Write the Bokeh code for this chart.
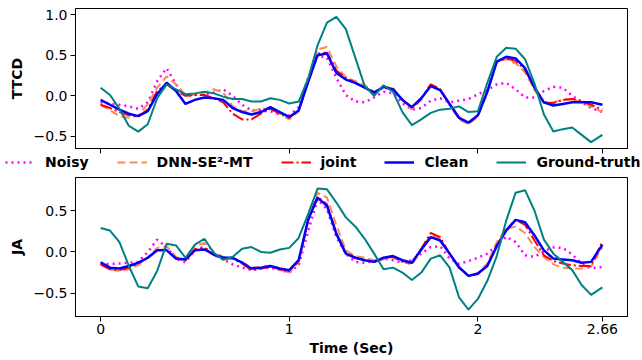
from bokeh.plotting import figure
from bokeh.models import (Range1d, FixedTicker, CustomJSTickFormatter, Legend,
                          LegendItem)
from bokeh.embed import file_html
from bokeh.resources import INLINE

# ---------------- data ----------------
TIME = [0.00, 0.05, 0.10, 0.15, 0.20, 0.25, 0.30, 0.35, 0.40, 0.45,
        0.50, 0.55, 0.60, 0.65, 0.70, 0.75, 0.80, 0.85, 0.90, 0.95,
        1.00, 1.05, 1.10, 1.15, 1.20, 1.25, 1.30, 1.35, 1.40, 1.45,
        1.50, 1.55, 1.60, 1.65, 1.70, 1.75, 1.80, 1.85, 1.90, 1.95,
        2.00, 2.05, 2.10, 2.15, 2.20, 2.25, 2.30, 2.35, 2.40, 2.45,
        2.50, 2.55, 2.60, 2.66]

X_TICKS = [0, 1, 2, 2.66]
TTCD_TICKS = [-0.5, 0.0, 0.5, 1.0]
JA_TICKS = [-0.5, 0.0, 0.5]

LABELS = ["Noisy", "DNN-SE\u00b2-MT", "joint", "Clean", "Ground-truth"]

ttcd_noisy = [-0.08, -0.10, -0.11, -0.13, -0.16, -0.08, 0.18, 0.34, 0.14, 0.00,
              0.01, 0.02, 0.04, 0.08, 0.00, -0.11, -0.18, -0.17, -0.19, -0.23,
              -0.24, -0.14, 0.22, 0.49, 0.47, 0.22, 0.01, -0.07, -0.08, -0.02,
              0.05, 0.03, -0.09, -0.17, -0.15, -0.06, -0.03, -0.08, -0.06, -0.04,
              0.02, 0.07, 0.14, 0.16, 0.08, -0.02, -0.02, 0.06, 0.11, 0.10,
              0.00, -0.08, -0.15, -0.20]
ttcd_dnn = [-0.11, -0.18, -0.25, -0.27, -0.24, -0.10, 0.10, 0.24, 0.14, 0.01,
            0.01, 0.04, 0.08, 0.04, -0.13, -0.19, -0.19, -0.16, -0.16, -0.22,
            -0.29, -0.19, 0.19, 0.57, 0.60, 0.36, 0.23, 0.18, 0.13, 0.05,
            0.11, 0.10, -0.05, -0.17, -0.05, 0.14, 0.09, -0.11, -0.29, -0.35,
            -0.26, 0.05, 0.42, 0.45, 0.40, 0.29, 0.07, -0.09, -0.08, -0.05,
            -0.04, -0.08, -0.13, -0.20]
ttcd_joint = [-0.11, -0.15, -0.20, -0.24, -0.25, -0.17, 0.06, 0.14, 0.06, 0.00,
              0.01, 0.01, -0.03, -0.08, -0.22, -0.29, -0.29, -0.22, -0.16, -0.22,
              -0.27, -0.18, 0.17, 0.52, 0.53, 0.31, 0.22, 0.16, 0.10, 0.04,
              0.10, 0.08, -0.05, -0.15, -0.03, 0.14, 0.08, -0.10, -0.27, -0.33,
              -0.24, 0.06, 0.42, 0.46, 0.43, 0.32, 0.11, -0.08, -0.09, -0.05,
              -0.04, -0.06, -0.11, -0.17]
ttcd_clean = [-0.05, -0.11, -0.17, -0.22, -0.25, -0.19, 0.02, 0.16, 0.06, -0.10,
              -0.05, -0.02, -0.03, -0.05, -0.15, -0.20, -0.23, -0.20, -0.14, -0.20,
              -0.26, -0.18, 0.17, 0.50, 0.52, 0.28, 0.20, 0.16, 0.10, 0.04,
              0.11, 0.08, -0.05, -0.14, -0.03, 0.12, 0.07, -0.10, -0.27, -0.33,
              -0.24, 0.05, 0.42, 0.48, 0.46, 0.34, 0.10, -0.08, -0.12, -0.10,
              -0.08, -0.08, -0.08, -0.11]
ttcd_gt = [0.10, 0.01, -0.16, -0.37, -0.44, -0.35, -0.03, 0.14, 0.08, 0.02,
           0.03, 0.05, 0.03, -0.01, -0.04, -0.04, -0.07, -0.07, -0.03, -0.05,
           -0.095, -0.07, 0.21, 0.62, 0.90, 0.97, 0.82, 0.47, 0.12, 0.00,
           0.13, 0.05, -0.20, -0.36, -0.29, -0.21, -0.17, -0.16, -0.13, -0.20,
           -0.19, 0.16, 0.48, 0.59, 0.58, 0.45, 0.15, -0.23, -0.44, -0.41,
           -0.39, -0.48, -0.57, -0.48]

ja_noisy = [-0.145, -0.145, -0.14, -0.13, -0.12, 0.00, 0.15, 0.06, -0.085, -0.125,
            0.03, 0.06, -0.04, -0.09, -0.15, -0.19, -0.22, -0.20, -0.19, -0.22,
            -0.25, -0.16, 0.25, 0.64, 0.52, 0.18, -0.02, -0.12, -0.13, -0.11,
            -0.08, -0.10, -0.125, -0.10, -0.02, 0.06, 0.07, -0.08, -0.145, -0.11,
            -0.07, -0.02, 0.08, 0.185, 0.12, -0.04, -0.06, 0.01, 0.055, 0.05,
            -0.03, -0.14, -0.20, -0.18]
ja_dnn = [-0.15, -0.21, -0.23, -0.21, -0.16, -0.07, 0.05, 0.07, -0.06, -0.09,
          0.07, 0.11, 0.00, -0.06, -0.08, -0.12, -0.19, -0.18, -0.17, -0.22,
          -0.25, -0.12, 0.38, 0.72, 0.66, 0.32, 0.02, -0.05, -0.07, -0.10,
          -0.09, -0.06, -0.11, -0.16, 0.03, 0.21, 0.16, -0.02, -0.19, -0.29,
          -0.26, -0.14, 0.12, 0.28, 0.31, 0.23, 0.06, -0.06, -0.15, -0.19,
          -0.20, -0.20, -0.18, 0.06]
ja_joint = [-0.15, -0.21, -0.22, -0.19, -0.14, -0.07, 0.02, 0.03, -0.08, -0.10,
            0.03, 0.05, -0.04, -0.08, -0.08, -0.14, -0.22, -0.20, -0.18, -0.21,
            -0.23, -0.11, 0.38, 0.67, 0.58, 0.22, -0.01, -0.07, -0.10, -0.12,
            -0.07, -0.06, -0.12, -0.13, 0.04, 0.23, 0.18, -0.02, -0.19, -0.29,
            -0.27, -0.16, 0.08, 0.27, 0.39, 0.33, 0.14, -0.04, -0.11, -0.14,
            -0.16, -0.17, -0.17, 0.13]
ja_clean = [-0.125, -0.19, -0.20, -0.17, -0.13, -0.07, 0.02, 0.02, -0.08, -0.09,
            0.02, 0.03, -0.03, -0.07, -0.07, -0.13, -0.20, -0.19, -0.17, -0.20,
            -0.22, -0.10, 0.39, 0.66, 0.56, 0.22, -0.02, -0.07, -0.10, -0.12,
            -0.07, -0.05, -0.10, -0.13, 0.03, 0.18, 0.14, -0.02, -0.185, -0.29,
            -0.26, -0.17, 0.07, 0.26, 0.39, 0.36, 0.20, 0.02, -0.08, -0.09,
            -0.10, -0.13, -0.12, 0.09]
ja_gt = [0.29, 0.26, 0.12, -0.17, -0.42, -0.44, -0.23, 0.10, 0.08, -0.07,
         0.09, 0.16, -0.01, -0.095, -0.06, 0.04, 0.06, 0.00, -0.01, 0.03,
         0.05, 0.17, 0.46, 0.77, 0.76, 0.60, 0.42, 0.31, 0.16, -0.02,
         -0.21, -0.19, -0.25, -0.34, -0.25, -0.08, -0.04, -0.19, -0.55, -0.70,
         -0.57, -0.35, -0.05, 0.38, 0.72, 0.75, 0.50, 0.15, -0.02, -0.12,
         -0.22, -0.40, -0.52, -0.43]

TTCD = [ttcd_noisy, ttcd_dnn, ttcd_joint, ttcd_clean, ttcd_gt]
JA = [ja_noisy, ja_dnn, ja_joint, ja_clean, ja_gt]

# ---------------- styles ----------------
FONT = "DejaVu Sans"
STYLES = [
    dict(line_color="#ff00ff", line_width=2.5, line_dash="2 4"),
    dict(line_color="#fa8a5c", line_width=2, line_dash="8 4"),
    dict(line_color="#ff0000", line_width=2, line_dash="12 3 2 3"),
    dict(line_color="#0000ff", line_width=2.5),
    dict(line_color="#008080", line_width=2),
]

W = 642
LEFT = 75
RIGHT = 15
X_RANGE = (-0.133, 2.793)

y_fmt = CustomJSTickFormatter(
    code='return (tick < 0 ? "\u2212" : "") + Math.abs(tick).toFixed(1);')
x_fmt = CustomJSTickFormatter(code='return String(tick);')
blank_fmt = CustomJSTickFormatter(code='return "";')


def panel(series, ylabel, yr, yticks, height, top, bottom, show_x):
    p = figure(width=W, height=height, x_range=Range1d(*X_RANGE),
               y_range=Range1d(*yr), toolbar_location=None,
               output_backend="svg", min_border_left=LEFT,
               min_border_right=RIGHT, min_border_top=top,
               min_border_bottom=bottom)
    p.grid.visible = False
    p.outline_line_color = "black"
    p.outline_line_width = 1
    p.outline_line_alpha = 1
    rs = [p.line(TIME, ys, **st) for ys, st in zip(series, STYLES)]
    for ax in (p.xaxis[0], p.yaxis[0]):
        ax.axis_line_color = "black"
        ax.major_tick_line_color = "black"
        ax.major_tick_in = 0
        ax.major_tick_out = 5
        ax.minor_tick_in = 0
        ax.minor_tick_out = 0
        ax.major_label_text_font = FONT
        ax.major_label_text_font_size = "14px"
        ax.major_label_text_color = "black"
        ax.axis_label_text_font = FONT
        ax.axis_label_text_font_style = "bold"
        ax.axis_label_text_font_size = "14px"
        ax.axis_label_text_color = "black"
    p.xaxis.ticker = FixedTicker(ticks=X_TICKS)
    p.yaxis.ticker = FixedTicker(ticks=yticks)
    p.yaxis.formatter = y_fmt
    p.yaxis.axis_label = ylabel
    p.yaxis.major_label_standoff = 3
    p.yaxis.axis_label_standoff = 6
    if show_x:
        p.xaxis.formatter = x_fmt
        p.xaxis.axis_label = "Time (Sec)"
        p.xaxis.major_label_standoff = 2
        p.xaxis.axis_label_standoff = 3
    else:
        p.xaxis.formatter = blank_fmt
        p.xaxis.major_label_text_font_size = "0px"
        p.xaxis.major_label_standoff = 0
    return p, rs


# top panel: rows 0..154, frame rows 8..148
top, _ = panel(TTCD, "TTCD", (-0.648, 1.074), TTCD_TICKS, 154, 8, 6, False)

# legend strip: rows 154..176 (its own plot; the series lines sit outside its view)
leg = figure(width=W, height=22, x_range=Range1d(*X_RANGE),
             y_range=Range1d(10, 11), toolbar_location=None,
             output_backend="svg", x_axis_location=None, y_axis_location=None,
             min_border=0, min_border_left=0, min_border_right=0,
             min_border_top=0, min_border_bottom=0, outline_line_color=None)
leg.grid.visible = False
leg_rs = [leg.line(TIME, ys, **st) for ys, st in zip(TTCD, STYLES)]
items = [LegendItem(label=lab, renderers=[r]) for lab, r in zip(LABELS, leg_rs)]
legend = Legend(items=items, orientation="horizontal", location=(5, 6),
                label_text_font=FONT, label_text_font_style="bold",
                label_text_font_size="14px", label_text_color="black",
                glyph_width=30, glyph_height=16, label_height=16,
                label_standoff=10, spacing=28, padding=0, margin=0,
                border_line_color=None, background_fill_alpha=0)
leg.add_layout(legend, "center")

# bottom panel: rows 176..360, frame rows 177..316
bot, _ = panel(JA, "JA", (-0.783, 0.904), JA_TICKS, 184, 1, 44, True)

with open("out.html", "w") as f:
    f.write(file_html([top, leg, bot], INLINE))
